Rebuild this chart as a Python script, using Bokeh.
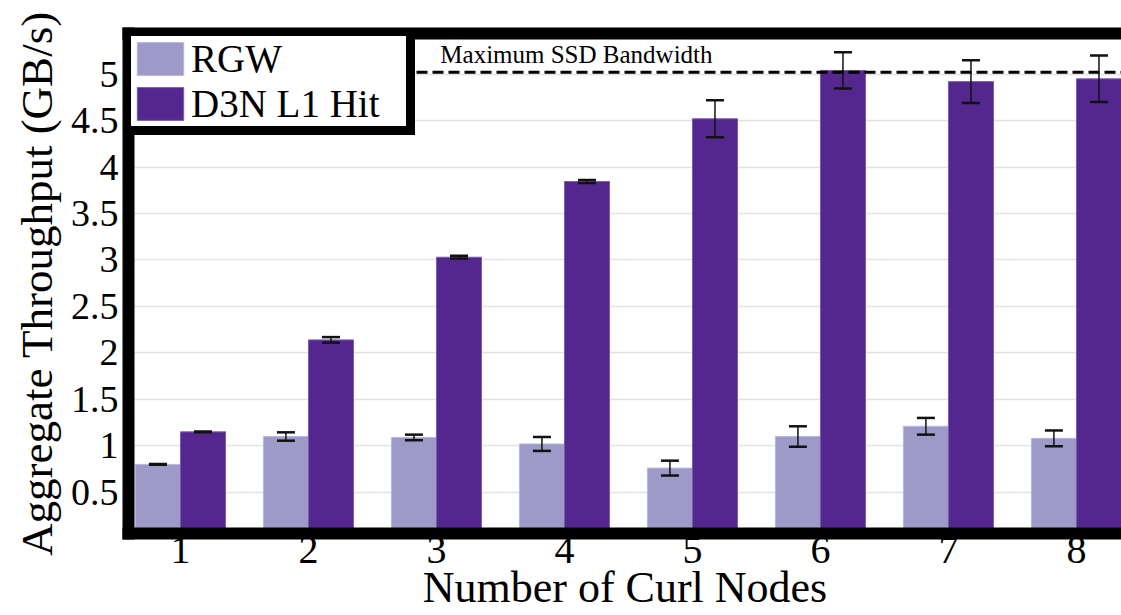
from bokeh.plotting import figure
from bokeh.models import (ColumnDataSource, Whisker, TeeHead, Span, Label, Legend,
                          LegendItem, FixedTicker, LinearAxis, Range1d)
from bokeh.transform import dodge
from bokeh.embed import file_html
from bokeh.resources import INLINE

# ---- data ----
NODES = [1, 2, 3, 4, 5, 6, 7, 8]
X_TICK_LABELS = ["1", "2", "3", "4", "5", "6", "7", "8"]
SERIES = ["RGW", "D3N L1 Hit"]
RGW = [0.80, 1.10, 1.09, 1.02, 0.76, 1.10, 1.21, 1.08]
RGW_ERR = [0.005, 0.045, 0.03, 0.075, 0.08, 0.11, 0.09, 0.085]
D3N = [1.15, 2.14, 3.03, 3.845, 4.52, 5.04, 4.92, 4.95]
D3N_ERR = [0.005, 0.03, 0.015, 0.015, 0.20, 0.195, 0.23, 0.25]
Y_TICKS = [0.5, 1.0, 1.5, 2.0, 2.5, 3.0, 3.5, 4.0, 4.5, 5.0]
Y_TICK_LABELS = ["0.5", "1", "1.5", "2", "2.5", "3", "3.5", "4", "4.5", "5"]
SSD_MAX = 5.02
SSD_LABEL = "Maximum SSD Bandwidth"
X_TITLE = "Number of Curl Nodes"
Y_TITLE = "Aggregate Throughput (GB/s)"

# ---- style ----
FONT = "Liberation Serif"
C_RGW = "#9e9ac8"
C_D3N = "#54278f"
BAR_W = 0.352
OFF = 0.176

src = ColumnDataSource(dict(
    nodes=NODES,
    rgw=RGW,
    rgw_lo=[v - e for v, e in zip(RGW, RGW_ERR)],
    rgw_hi=[v + e for v, e in zip(RGW, RGW_ERR)],
    d3n=D3N,
    d3n_lo=[v - e for v, e in zip(D3N, D3N_ERR)],
    d3n_hi=[v + e for v, e in zip(D3N, D3N_ERR)],
))

p = figure(width=1121, height=615,
           x_range=Range1d(0.594, 8.352), y_range=Range1d(0.056, 5.438),
           output_backend="svg", toolbar_location=None,
           min_border_left=128, min_border_right=0,
           min_border_top=33, min_border_bottom=82)
p.outline_line_color = None
p.background_fill_color = "white"
p.border_fill_color = "white"

r1 = p.vbar(x=dodge("nodes", -OFF), top="rgw", bottom=0, width=BAR_W, source=src,
            fill_color=C_RGW, line_color="#b9b6dc", line_width=1)
r2 = p.vbar(x=dodge("nodes", OFF), top="d3n", bottom=0, width=BAR_W, source=src,
            fill_color=C_D3N, line_color="#7c5cb0", line_width=1)

for base, lo, hi in [(dodge("nodes", -OFF), "rgw_lo", "rgw_hi"),
                     (dodge("nodes", OFF), "d3n_lo", "d3n_hi")]:
    w = Whisker(base=base, lower=lo, upper=hi, source=src,
                line_color="#111111", line_width=1.5, level="annotation",
                upper_head=TeeHead(size=18, line_width=2.5, line_color="#111111"),
                lower_head=TeeHead(size=18, line_width=2.5, line_color="#111111"))
    p.add_layout(w)

span = Span(location=SSD_MAX, dimension="width", line_color="black",
            line_width=3, line_dash="11 5")
p.add_layout(span)

lbl = Label(x=3.03, y=5.07, text=SSD_LABEL, text_font=FONT,
            text_font_size="25px", text_baseline="bottom", text_color="black")
p.add_layout(lbl)

# grid
p.xgrid.visible = False
p.ygrid.ticker = FixedTicker(ticks=Y_TICKS)
p.ygrid.grid_line_color = "#e3e3e3"
p.ygrid.grid_line_width = 1.5

def style_axis(ax):
    ax.axis_line_width = 12
    ax.axis_line_color = "black"
    ax.axis_line_cap = "square"
    ax.major_tick_line_color = None
    ax.minor_tick_line_color = None
    ax.major_tick_out = 0
    ax.major_tick_in = 0
    ax.minor_tick_out = 0
    ax.minor_tick_in = 0
    ax.major_label_text_font = FONT
    ax.major_label_text_font_size = "38px"
    ax.major_label_text_color = "black"
    ax.axis_label_text_font = FONT
    ax.axis_label_text_font_size = "44px"
    ax.axis_label_text_font_style = "normal"
    ax.axis_label_text_color = "black"

xa = p.xaxis[0]
style_axis(xa)
xa.ticker = FixedTicker(ticks=NODES)
xa.major_label_overrides = {n: l for n, l in zip(NODES, X_TICK_LABELS)}
xa.major_label_text_font_size = "40px"
xa.axis_label = X_TITLE
xa.major_label_standoff = 3
xa.axis_label_standoff = -3

ya = p.yaxis[0]
style_axis(ya)
ya.ticker = FixedTicker(ticks=Y_TICKS)
ya.major_label_overrides = {t: l for t, l in zip(Y_TICKS, Y_TICK_LABELS)}
ya.axis_label = Y_TITLE
ya.axis_label_text_font_size = "45px"
ya.major_label_standoff = 10
ya.axis_label_standoff = 6

top = LinearAxis(ticker=FixedTicker(ticks=[]))
style_axis(top)
top.major_label_text_font_size = "0px"
p.add_layout(top, "above")

legend = Legend(items=[LegendItem(label=SERIES[0], renderers=[r1]),
                       LegendItem(label=SERIES[1], renderers=[r2])],
                location="top_left", margin=-6, padding=0, spacing=0,
                border_line_color="black", border_line_width=9, border_line_alpha=1.0,
                background_fill_color="white", background_fill_alpha=1.0,
                label_text_font=FONT, label_text_font_size="39px",
                label_text_color="black",
                glyph_width=58, glyph_height=41, label_height=41,
                label_standoff=2, label_width=215)
p.add_layout(legend)

open("out.html", "w").write(file_html(p, INLINE))
